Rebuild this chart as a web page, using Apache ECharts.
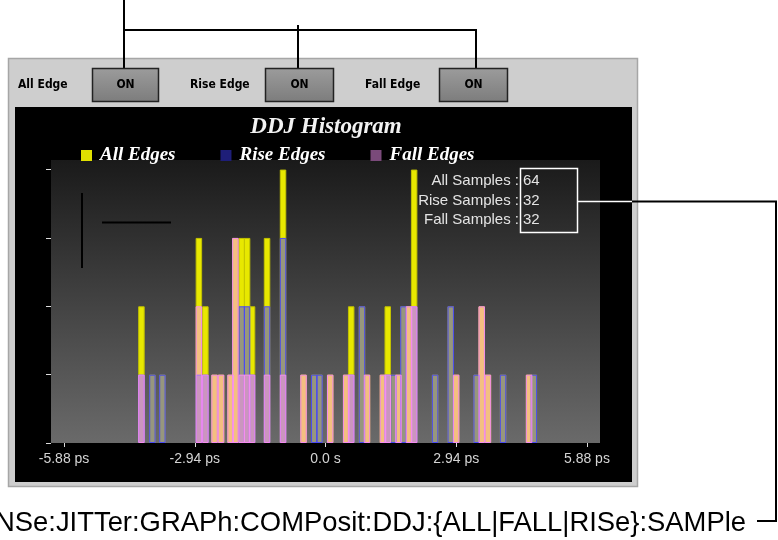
<!DOCTYPE html>
<html><head><meta charset="utf-8">
<script src="https://cdn.jsdelivr.net/npm/echarts@6/dist/echarts.min.js"></script>
<style>html,body{margin:0;padding:0;background:#fff;}#c{width:778px;height:540px;}</style>
</head><body><div id="c"></div>
<script>
// ---- data (bin centres in ps, counts per bin) ----
const binCenters = [-4.140,-3.893,-3.668,-2.848,-2.702,-2.495,-2.349,-2.135,-2.027,-1.884,-1.764,-1.652,-1.315,-0.955,-0.494,-0.252,-0.135,0.106,0.465,0.578,0.820,0.933,1.292,1.400,1.528,1.641,1.753,1.877,1.994,2.466,2.816,2.938,3.399,3.513,3.653,3.994,4.579,4.686];
const allEdges  = [2,1,1,3,2,1,1,1,3,3,3,2,3,4,1,1,1,1,1,2,2,1,1,2,1,1,2,2,4,1,2,1,1,2,1,1,1,1];
const riseEdges = [1,1,1,1,1,0,0,0,0,2,2,1,2,3,0,1,1,0,0,1,2,0,0,1,1,0,2,0,2,1,2,0,1,0,0,1,0,1];
const fallEdges = [1,0,0,2,1,1,1,1,3,1,1,1,1,1,1,0,0,1,1,1,0,1,1,1,0,1,0,2,2,0,0,1,0,2,1,0,1,0];
const seriesNames = ['All Edges','Rise Edges','Fall Edges'];
const xTickValues = [-5.88,-2.94,0,2.94,5.88];
const xTickLabels = ['-5.88 ps','-2.94 ps','0.0 s','2.94 ps','5.88 ps'];
const yTickValues = [0,1,2,3,4];
const xMin = -6.174, xMax = 6.174, yMin = 0, yMax = 4.14;
const buttonLabels = ['All Edge','Rise Edge','Fall Edge'];
const buttonText = 'ON';
const statLabels = ['All Samples :','Rise Samples :','Fall Samples :'];
const commandText = 'NSe:JITTer:GRAPh:COMPosit:DDJ:{ALL|FALL|RISe}:SAMPle';

const sum = a => a.reduce((s,v)=>s+v,0);
const statValues = [sum(allEdges), sum(riseEdges), sum(fallEdges)];
function pairs(vals){ return binCenters.map((x,i)=>[x, vals[i]]).filter(d=>d[1]>0); }

const chart = echarts.init(document.getElementById('c'), null, {renderer:'canvas', width:778, height:540});
const narrow = '"Liberation Sans Narrow","DejaVu Sans Condensed","Liberation Sans",sans-serif';
const serif = '"Liberation Serif","Times New Roman",serif';

const graphics = [];
// top connector lines
[[124,0,124,69],[123,30,477,30],[298,25,298,69],[476,30,476,69]].forEach(l=>{
  graphics.push({type:'line', z:-5, shape:{x1:l[0],y1:l[1],x2:l[2],y2:l[3]}, style:{stroke:'#000', lineWidth:2}});
});
// panel
graphics.push({type:'rect', z:-10, shape:{x:8.5,y:58.5,width:629,height:428}, style:{fill:'#cecece', stroke:'#a6a6a6', lineWidth:1.5}});
const btnX = [92,265,439], btnW = [66,68,68], lblX = [18,190,365];
buttonLabels.forEach((t,i)=>{
  graphics.push({type:'text', z:-4, x:lblX[i], y:85, style:{text:t, font:'bold 12px '+narrow, fill:'#000', verticalAlign:'middle'}});
  graphics.push({type:'rect', z:-4, shape:{x:btnX[i]+0.5,y:68.5,width:btnW[i],height:33}, style:{
    fill:new echarts.graphic.LinearGradient(0,0,0,1,[{offset:0,color:'#9c9c9c'},{offset:1,color:'#7c7c7c'}]),
    stroke:'#222', lineWidth:1.5}});
  graphics.push({type:'text', z:-3, x:btnX[i]+btnW[i]/2+0.5, y:85, style:{text:buttonText, font:'bold 12px '+narrow, fill:'#000', align:'center', verticalAlign:'middle'}});
});
// black chart area
graphics.push({type:'rect', z:-9, shape:{x:15,y:107,width:617,height:375}, style:{fill:'#000'}});
// title
graphics.push({type:'text', z:5, x:326, y:127, style:{text:'DDJ Histogram', font:'italic bold 23px '+serif, fill:'#f2f2f2', align:'center', verticalAlign:'middle'}});
// annotation black lines in plot
graphics.push({type:'line', z:5, shape:{x1:82,y1:193,x2:82,y2:268}, style:{stroke:'#000', lineWidth:2}});
graphics.push({type:'line', z:5, shape:{x1:102,y1:222.5,x2:171,y2:222.5}, style:{stroke:'#000', lineWidth:2}});
// stats box
statLabels.forEach((t,i)=>{
  const y = 181 + i*19.5;
  graphics.push({type:'text', z:10, x:519, y:y, style:{text:t, font:'15px "Liberation Sans",Arial,sans-serif', fill:'#e4e4e4', align:'right', verticalAlign:'middle'}});
  graphics.push({type:'text', z:10, x:523, y:y, style:{text:String(statValues[i]), font:'15px "Liberation Sans",Arial,sans-serif', fill:'#e4e4e4', align:'left', verticalAlign:'middle'}});
});
graphics.push({type:'rect', z:10, shape:{x:520.5,y:168.5,width:57,height:64}, style:{fill:'none', stroke:'#fff', lineWidth:1.5}});
graphics.push({type:'line', z:10, shape:{x1:578,y1:201.5,x2:632,y2:201.5}, style:{stroke:'#fff', lineWidth:1.5}});
graphics.push({type:'polyline', z:10, shape:{points:[[632,201.5],[776,201.5],[776,521],[757,521]]}, style:{stroke:'#000', lineWidth:2, fill:'none'}});
// command text
graphics.push({type:'text', z:10, x:746, y:523, style:{text:commandText, font:'27.4px "Liberation Sans",Arial,sans-serif', fill:'#000', align:'right', verticalAlign:'middle'}});

const option = {
  animation:false,
  backgroundColor:'#fff',
  grid:{left:51, top:160, width:549, height:283, show:true, borderWidth:0,
    backgroundColor:new echarts.graphic.LinearGradient(0,0,0,1,[{offset:0,color:'#1a1a1a'},{offset:1,color:'#6a6a6a'}])},
  legend:{left:81, top:146, padding:0, itemWidth:11, itemHeight:11, itemGap:45, icon:'rect',
    textStyle:{color:'#fff', fontFamily:serif, fontStyle:'italic', fontWeight:'bold', fontSize:19, padding:[0,0,0,3]},
    data:[
      {name:seriesNames[0], itemStyle:{color:'#e0e000', borderWidth:0}},
      {name:seriesNames[1], itemStyle:{color:'#1e1e78', borderWidth:0}},
      {name:seriesNames[2], itemStyle:{color:'#7a4a7a', borderWidth:0}}
    ]},
  xAxis:{type:'value', min:xMin, max:xMax, splitLine:{show:false}, axisLine:{show:false, onZero:false},
    axisTick:{show:true, customValues:xTickValues, length:4, lineStyle:{color:'#dddddd'}},
    axisLabel:{show:true, customValues:xTickValues, margin:9, color:'#d4d4d4', fontSize:14, fontFamily:'"Liberation Sans",Arial,sans-serif',
      formatter:v=>{const i=xTickValues.findIndex(t=>Math.abs(t-v)<1e-6); return i>=0?xTickLabels[i]:'';}}},
  yAxis:{type:'value', position:'left', min:yMin, max:yMax, splitLine:{show:false}, axisLine:{show:false, onZero:false},
    axisTick:{show:true, customValues:yTickValues, length:5, lineStyle:{color:'#dddddd'}},
    axisLabel:{show:false}},
  graphic:graphics,
  series:[
    {name:seriesNames[0], type:'bar', data:pairs(allEdges), barWidth:6.5, barGap:'-100%',
      itemStyle:{color:'#e8e800', borderColor:'#c2c200', borderWidth:1}},
    {name:seriesNames[1], type:'bar', data:pairs(riseEdges), barWidth:6.5, barGap:'-100%',
      itemStyle:{color:'rgba(70,70,250,0.5)', borderColor:'#4a4af5', borderWidth:1}},
    {name:seriesNames[2], type:'bar', data:pairs(fallEdges), barWidth:6.5, barGap:'-100%',
      itemStyle:{color:'rgba(255,150,255,0.5)', borderColor:'#f58cf0', borderWidth:1}}
  ]
};
chart.setOption(option);
</script></body></html>
